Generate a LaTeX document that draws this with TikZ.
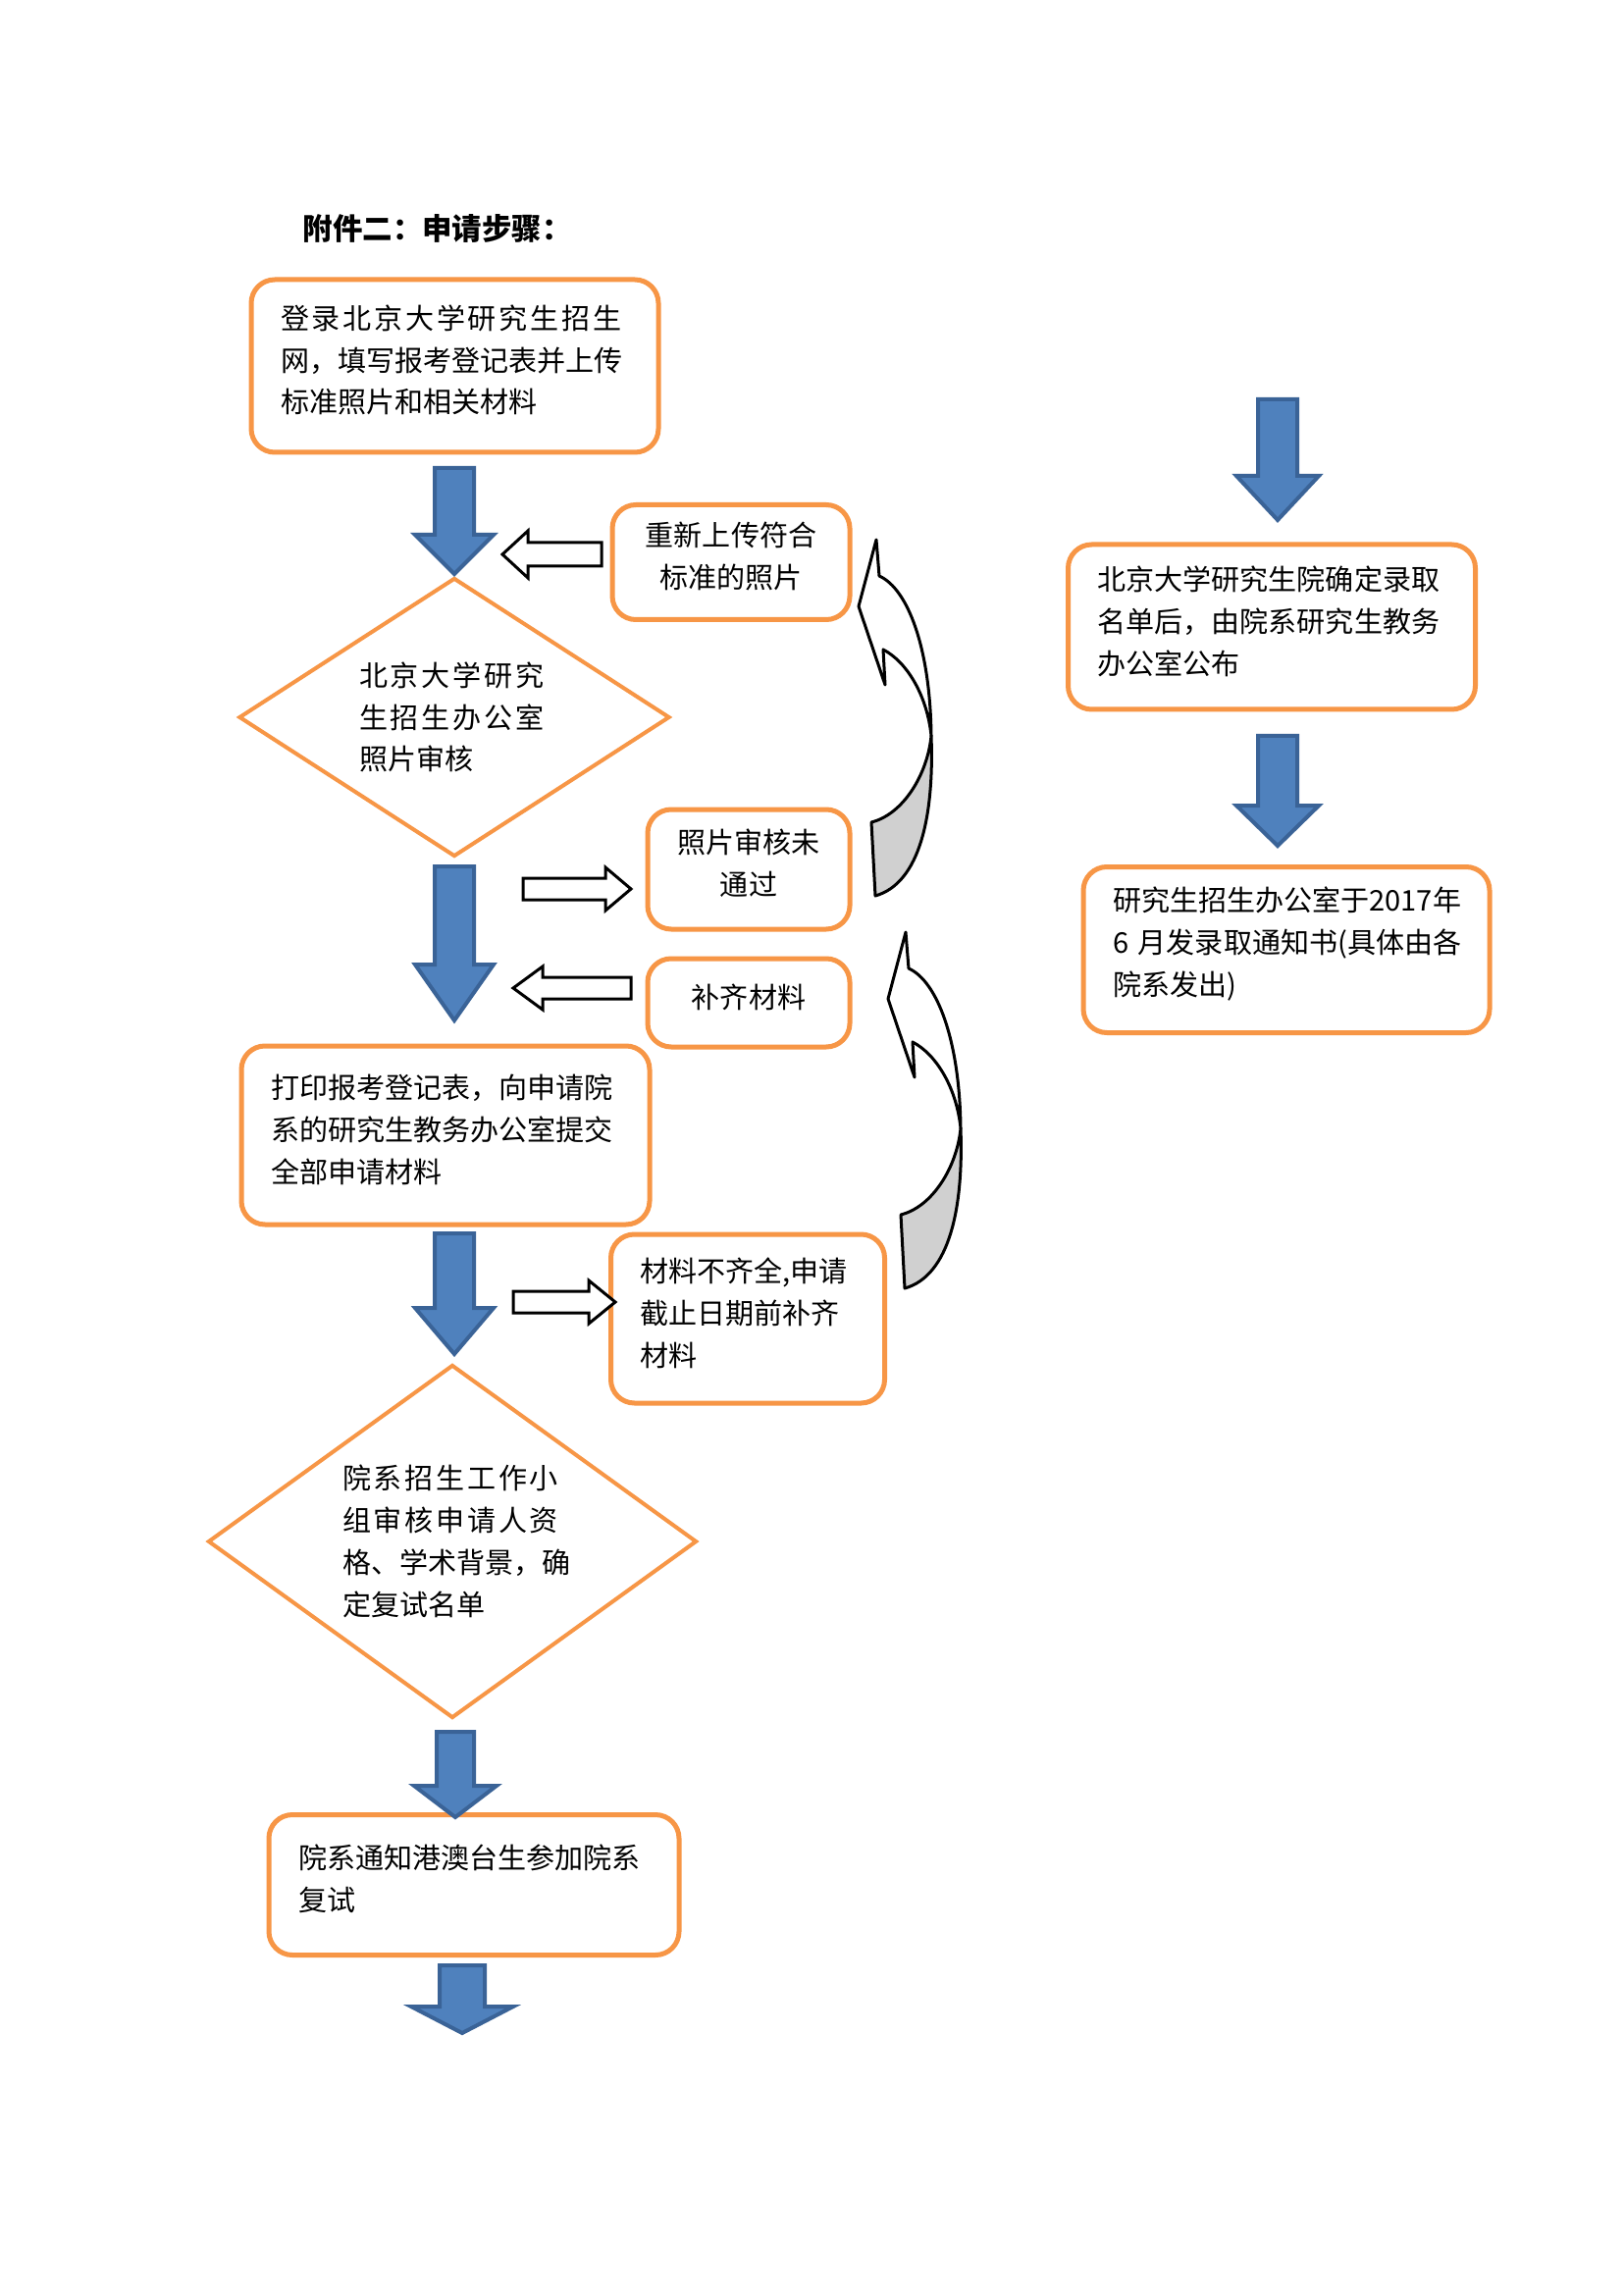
\documentclass[tikz,border=0pt]{standalone}
\usepackage{fontspec}
\setmainfont{Noto Sans CJK SC}
\newfontfamily\spreadcjk[LetterSpace=9.5]{Noto Sans CJK SC}
\usetikzlibrary{shapes.geometric}
\definecolor{boxorange}{HTML}{F79646}
\definecolor{stepblue}{HTML}{4F81BD}
\definecolor{stepblueedge}{HTML}{3A6397}
\definecolor{foldgray}{HTML}{D0D0D0}
\newdimen\px \px=0.127mm

% blue block arrow pointing down: x, top, head base, tip, half shaft, half head
\newcommand{\blockdown}[6]{%
  \draw[bluestep] (#1-#5,#2) -- (#1+#5,#2) -- (#1+#5,#3) -- (#1+#6,#3)
    -- (#1,#4) -- (#1-#6,#3) -- (#1-#5,#3) -- cycle;}
% hollow block arrow, horizontal: tail, head base, tip, y, half shaft, half head
\newcommand{\blockside}[6]{%
  \draw[hollowstep] (#1,#4-#5) -- (#2,#4-#5) -- (#2,#4-#6) -- (#3,#4)
    -- (#2,#4+#6) -- (#2,#4+#5) -- (#1,#4+#5) -- cycle;}
% curved return arrow, tip at (#1,#2)
\newcommand{\returnarrow}[2]{%
  \begin{scope}[shift={(#1,#2)}]
    \draw[foldline,fill=white] (0,0) -- (3,37) .. controls (32,50) and (55,110) .. (56,200)
      .. controls (52,160) and (32,125) .. (7,112) -- (9,148) -- (-18,68) -- cycle;
    \draw[foldline,fill=foldgray] (56,200) .. controls (59,280) and (45,350) .. (-1,363)
      -- (-5,288) .. controls (27,280) and (52,240) .. (56,200) -- cycle;
  \end{scope}}
% extra room under the text of a box
\newcommand{\boxpad}{\endgraf\vspace*{12\px}}

\begin{document}
\begin{tikzpicture}[x=0.127mm,y=-0.127mm,
  stepbox/.style={draw=boxorange,line width=5\px,rounded corners=24\px,fill=white,
    inner xsep=30\px,inner ysep=0pt,align=left,
    font=\fontsize{10.5pt}{15.5pt}\selectfont,
    execute at end node=\boxpad},
  checkdia/.style={diamond,draw=boxorange,line width=4\px,fill=white,inner sep=0pt,
    align=left,font=\fontsize{10.5pt}{15.5pt}\selectfont},
  bluestep/.style={fill=stepblue,draw=stepblueedge,line width=4\px,line join=miter},
  hollowstep/.style={draw=black,line width=3\px,fill=white},
  foldline/.style={draw=black,line width=3\px,line join=round}]
  \useasboundingbox (0,0) rectangle (1654,2339);
  \fill[white] (0,0) rectangle (1654,2339);

  \node[anchor=west,font=\fontsize{11pt}{13pt}\selectfont\bfseries] (title) at (299,233)
    {附件二：申请步骤：};

  % left column
  \node[stepbox,text width=355\px,minimum height=176\px] (login) at (463.5,373)
    {{\spreadcjk 登录北京大学研究生招生}\\网，填写报考登记表并上传\\标准照片和相关材料};
  \node[checkdia,text width=194\px,minimum width=439\px,minimum height=284\px,aspect=1.55]
    (photocheck) at (463,731) {{\spreadcjk 北京大学研究}\\{\spreadcjk 生招生办公室}\\照片审核};
  \node[stepbox,text width=356\px,minimum height=182\px] (printform) at (454,1157)
    {打印报考登记表，向申请院\\系的研究生教务办公室提交\\全部申请材料};
  \node[checkdia,text width=224\px,minimum width=498\px,minimum height=360\px,aspect=1.38]
    (deptcheck) at (461,1571)
    {{\spreadcjk 院系招生工作小}\\{\spreadcjk 组审核申请人资}\\格、学术背景，确\\定复试名单};
  \node[stepbox,text width=358\px,minimum height=143\px] (retest) at (483,1921)
    {院系通知港澳台生参加院系\\复试};

  % side boxes
  \node[stepbox,align=center,text width=182\px,minimum height=117\px] (reupload) at (745,573)
    {重新上传符合\\标准的照片};
  \node[stepbox,align=center,text width=146\px,minimum height=122\px] (photofail) at (763,886)
    {照片审核未\\通过};
  \node[stepbox,align=center,text width=146\px,minimum height=90\px] (supply) at (763,1022)
    {补齐材料};
  \node[stepbox,text width=219\px,minimum height=172\px] (lacking) at (762,1344)
    {材料不齐全,申请\\截止日期前补齐\\材料};

  % right column
  \node[stepbox,text width=355\px,minimum height=168\px] (admitlist) at (1296,639)
    {北京大学研究生院确定录取\\名单后，由院系研究生教务\\办公室公布};
  \node[stepbox,text width=354\px,minimum height=169\px] (notice) at (1311,968)
    {研究生招生办公室于2017年\\6~月发录取通知书(具体由各\\院系发出)};

  % down arrows
  \blockdown{463}{477}{545}{585}{20}{40}
  \blockdown{463}{883}{983}{1040}{20}{40}
  \blockdown{463}{1257}{1333}{1380}{20}{40}
  \blockdown{464}{1765}{1820}{1852}{19}{42}
  \blockdown{471}{2003}{2045}{2072}{23}{52}
  \blockdown{1302}{407}{485}{530}{20}{42}
  \blockdown{1302}{750}{821}{862}{20}{42}

  % side arrows
  \blockside{613}{538}{512}{565}{12}{24}
  \blockside{533}{617}{643}{906}{11}{22}
  \blockside{643}{553}{523}{1007}{11}{22}
  \blockside{523}{600}{627}{1327}{11}{22}

  % return arrows
  \returnarrow{893}{550}
  \returnarrow{923}{950}
\end{tikzpicture}
\end{document}
